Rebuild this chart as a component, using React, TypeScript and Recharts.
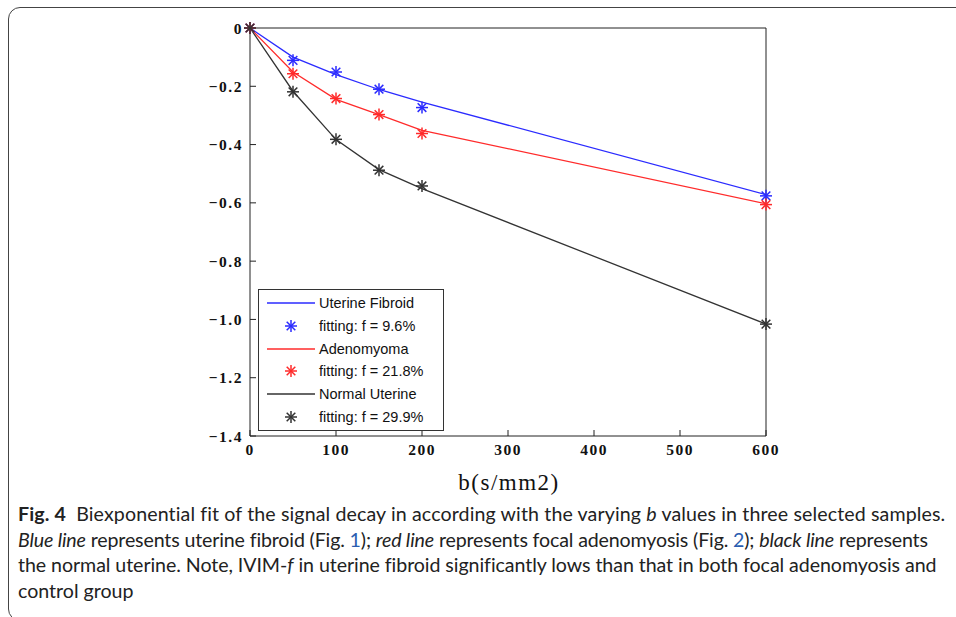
import React from "react";
import { ComposedChart, Line, Scatter, XAxis, YAxis } from "recharts";

const B_VALUES = [0, 50, 100, 150, 200, 600];
const X_TICKS = [0, 100, 200, 300, 400, 500, 600];
const Y_TICKS = [0, -0.2, -0.4, -0.6, -0.8, -1.0, -1.2, -1.4];

const fibroidFit = [0, -0.1, -0.16, -0.211, -0.254, -0.572];
const fibroidMeasured = [0, -0.111, -0.151, -0.21, -0.273, -0.576];
const adenoFit = [0, -0.151, -0.245, -0.297, -0.351, -0.603];
const adenoMeasured = [0, -0.157, -0.242, -0.297, -0.362, -0.606];
const normalFit = [0, -0.217, -0.383, -0.486, -0.551, -1.016];
const normalMeasured = [0, -0.219, -0.382, -0.488, -0.542, -1.016];

const SERIES = [
  { name: "Uterine Fibroid", fitName: "fitting: f = 9.6%", color: "#2b2bff", fit: fibroidFit, measured: fibroidMeasured },
  { name: "Adenomyoma", fitName: "fitting: f = 21.8%", color: "#ff2b2b", fit: adenoFit, measured: adenoMeasured },
  { name: "Normal Uterine", fitName: "fitting: f = 29.9%", color: "#333333", fit: normalFit, measured: normalMeasured },
];

const toPoints = (vals: number[]) => B_VALUES.map((b, i) => ({ b, v: vals[i] }));

const fmtY = (v: number) => (v === 0 ? "0" : "\u2212" + Math.abs(v).toFixed(1));

function Asterisk(props: any) {
  const { cx, cy, fill } = props;
  const r = 6;
  const d = r * 0.72;
  return (
    <g stroke={fill} strokeWidth={1.5}>
      <line x1={cx - r} y1={cy} x2={cx + r} y2={cy} />
      <line x1={cx} y1={cy - r} x2={cx} y2={cy + r} />
      <line x1={cx - d} y1={cy - d} x2={cx + d} y2={cy + d} />
      <line x1={cx - d} y1={cy + d} x2={cx + d} y2={cy - d} />
    </g>
  );
}

function LegendBox() {
  return (
    <div
      style={{
        position: "absolute",
        left: 258,
        top: 289,
        border: "1px solid #333",
        background: "#fff",
        width: 186,
        height: 142,
        boxSizing: "border-box",
        fontFamily: "'Liberation Sans', Arial, sans-serif",
        fontSize: 14.5,
        color: "#111",
        paddingTop: 2,
      }}
    >
      {SERIES.map((s) => (
        <React.Fragment key={s.name}>
          <div style={{ display: "flex", alignItems: "center", height: 22.7 }}>
            <svg width={60} height={10}>
              <line x1={8} y1={5} x2={56} y2={5} stroke={s.color} strokeWidth={1.3} />
            </svg>
            <span>{s.name}</span>
          </div>
          <div style={{ display: "flex", alignItems: "center", height: 22.7 }}>
            <svg width={60} height={14}>
              <Asterisk cx={32} cy={7} fill={s.color} />
            </svg>
            <span>{s.fitName}</span>
          </div>
        </React.Fragment>
      ))}
    </div>
  );
}

export default function App() {
  const tickFont = {
    fontFamily: "'Liberation Serif', serif",
    fontSize: 15.5,
    fill: "#111",
    letterSpacing: 1.5,
    fontWeight: 600,
  };
  return (
    <div
      style={{
        position: "absolute",
        left: 0,
        top: 0,
        width: 956,
        height: 617,
        background: "#fff",
        overflow: "hidden",
      }}
    >
      <div
        style={{
          position: "absolute",
          left: 8,
          top: 7,
          width: 1000,
          height: 612,
          border: "1.5px solid #444",
          borderRadius: 12,
        }}
      />
      <div style={{ position: "absolute", left: 0, top: 0 }}>
        <ComposedChart
          width={956}
          height={500}
          margin={{ top: 27, right: 189, left: 0, bottom: 0 }}
        >
          <XAxis
            xAxisId="bottom"
            dataKey="b"
            type="number"
            domain={[0, 600]}
            ticks={X_TICKS}
            orientation="bottom"
            height={64}
            stroke="#222"
            tickSize={-6}
            tickMargin={14}
            tick={tickFont}
            allowDuplicatedCategory={false}
          />
          <XAxis
            xAxisId="top"
            dataKey="b"
            type="number"
            domain={[0, 600]}
            ticks={X_TICKS}
            orientation="top"
            height={1}
            stroke="#222"
            tickSize={-6}
            tick={false}
          />
          <YAxis
            yAxisId="left"
            type="number"
            domain={[-1.4, 0]}
            ticks={Y_TICKS}
            width={250}
            stroke="#222"
            tickSize={-6}
            tickMargin={13}
            tick={tickFont}
            tickFormatter={fmtY}
          />
          <YAxis
            yAxisId="right"
            type="number"
            domain={[-1.4, 0]}
            ticks={Y_TICKS}
            orientation="right"
            width={1}
            stroke="#222"
            tickSize={-6}
            tick={false}
          />
          {SERIES.map((s) => (
            <Line
              key={s.name}
              xAxisId="bottom"
              yAxisId="left"
              data={toPoints(s.fit)}
              dataKey="v"
              name={s.name}
              type="linear"
              stroke={s.color}
              strokeWidth={1.3}
              dot={false}
              isAnimationActive={false}
            />
          ))}
          {SERIES.map((s) => (
            <Scatter
              key={s.fitName}
              xAxisId="bottom"
              yAxisId="left"
              data={toPoints(s.measured)}
              dataKey="v"
              name={s.fitName}
              fill={s.color}
              shape={<Asterisk />}
              isAnimationActive={false}
            />
          ))}
        </ComposedChart>
      </div>
      <LegendBox />
      <div
        style={{
          position: "absolute",
          left: 409,
          top: 470,
          width: 200,
          textAlign: "center",
          fontFamily: "'Liberation Serif', serif",
          fontSize: 23,
          letterSpacing: 1.5,
          color: "#111",
        }}
      >
        b(s/mm2)
      </div>
      <div
        style={{
          position: "absolute",
          left: 18,
          top: 501,
          fontFamily: "Lato, 'Open Sans', sans-serif",
          fontSize: 19.6,
          lineHeight: "25.6px",
          color: "#222",
          whiteSpace: "nowrap",
        }}
      >
        <div style={{ letterSpacing: 0.12 }}>
          <b>Fig. 4</b>&nbsp; Biexponential fit of the signal decay in according with the varying <i>b</i> values in three selected samples.
        </div>
        <div style={{ letterSpacing: -0.14 }}>
          <i>Blue line</i> represents uterine fibroid (Fig. <span style={{ color: "#2a5db0" }}>1</span>); <i>red line</i> represents focal adenomyosis (Fig. <span style={{ color: "#2a5db0" }}>2</span>); <i>black line</i> represents
        </div>
        <div style={{ letterSpacing: -0.06 }}>
          the normal uterine. Note, IVIM-<i>f</i> in uterine fibroid significantly lows than that in both focal adenomyosis and
        </div>
        <div>control group</div>
      </div>
    </div>
  );
}
